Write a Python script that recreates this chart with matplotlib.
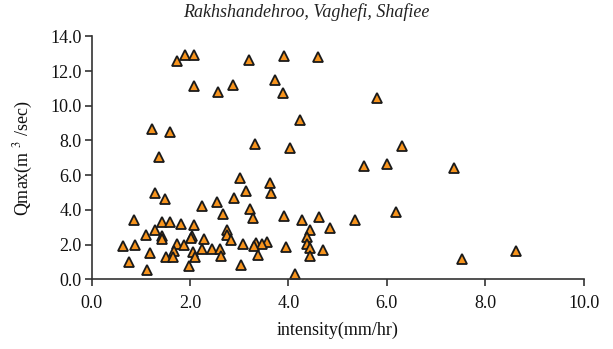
import matplotlib
matplotlib.use("Agg")
import matplotlib.pyplot as plt

plt.rcParams['font.family'] = ['Liberation Serif', 'DejaVu Serif']
plt.rcParams['mathtext.fontset'] = 'stix'

intensity = [1.74, 1.90, 2.08, 3.20, 3.91, 4.61, 3.72, 2.07, 2.57, 2.87,
             3.89, 5.81, 4.24, 1.23, 1.60, 3.32, 4.04, 6.31, 1.37, 7.36,
             5.53, 6.01, 3.01, 3.62, 3.14, 3.64, 1.29, 1.48, 2.89, 2.54,
             2.24, 3.22, 6.19, 2.66, 3.90, 4.62, 3.28, 4.27, 5.36, 0.85,
             1.42, 1.60, 1.81, 2.07, 4.84, 1.29, 2.75, 4.44, 2.76, 1.10,
             1.43, 1.43, 2.03, 2.01, 2.29, 2.83, 4.37, 3.57, 3.35, 4.38,
             3.46, 3.07, 1.73, 0.88, 0.64, 1.87, 3.29, 3.94, 4.44, 2.25,
             2.45, 2.60, 4.71, 1.67, 8.63, 2.06, 1.19, 3.39, 4.44, 1.52,
             1.65, 2.10, 2.62, 7.53, 0.75, 3.04, 1.97, 1.12, 4.13]
qmax = [12.55, 12.95, 12.95, 12.62, 12.85, 12.78, 11.50, 11.15, 10.80, 11.22,
        10.74, 10.45, 9.18, 8.66, 8.49, 7.82, 7.56, 7.70, 7.05, 6.43,
        6.50, 6.65, 5.83, 5.52, 5.10, 4.95, 4.95, 4.60, 4.68, 4.47,
        4.25, 4.05, 3.90, 3.77, 3.62, 3.58, 3.55, 3.44, 3.42, 3.42,
        3.30, 3.30, 3.20, 3.15, 2.98, 2.86, 2.82, 2.84, 2.58, 2.57,
        2.50, 2.35, 2.52, 2.40, 2.33, 2.25, 2.44, 2.15, 2.09, 2.04,
        2.02, 2.01, 2.04, 1.99, 1.92, 1.97, 1.93, 1.86, 1.79, 1.77,
        1.73, 1.77, 1.70, 1.64, 1.63, 1.55, 1.50, 1.38, 1.33, 1.30,
        1.30, 1.30, 1.32, 1.19, 0.98, 0.82, 0.77, 0.52, 0.32]

x_ticks = [0, 2, 4, 6, 8, 10]
y_ticks = [0, 2, 4, 6, 8, 10, 12, 14]
title = "Rakhshandehroo, Vaghefi, Shafiee"
xlabel = "intensity(mm/hr)"
ylabel = "Qmax(m $^{3}$ /sec)"

fig = plt.figure(figsize=(6.13, 3.49), dpi=100)
ax = fig.add_axes([0.1496, 0.1997, 0.8024, 0.6963])

ax.plot(intensity, qmax, linestyle='none', marker='^', markersize=7.6,
        markerfacecolor='#F7941D', markeredgecolor='#1a1a1a', markeredgewidth=1.3,
        clip_on=False)

ax.set_xlim(0, 10)
ax.set_ylim(0, 14)
ax.set_xticks(x_ticks)
ax.set_xticklabels([f"{v:.1f}" for v in x_ticks])
ax.set_yticks(y_ticks)
ax.set_yticklabels([f"{v:.1f}" for v in y_ticks])

for s in ['top', 'right']:
    ax.spines[s].set_visible(False)
for s in ['left', 'bottom']:
    ax.spines[s].set_color('#333333')
    ax.spines[s].set_linewidth(1.2)
ax.tick_params(axis='both', direction='out', length=5, width=1.2, color='#333333',
               labelsize=13, labelcolor='#111111')
ax.tick_params(axis='x', pad=6)
ax.tick_params(axis='y', pad=2)

ax.set_xlabel(xlabel, fontsize=13, color='#111111', labelpad=7)
ax.set_ylabel(ylabel, fontsize=13, color='#111111', labelpad=11)
fig.text(0.5, 0.965, title, ha='center', va='center', fontsize=13,
         style='italic', color='#222222')

fig.savefig('out.png', dpi=100)
